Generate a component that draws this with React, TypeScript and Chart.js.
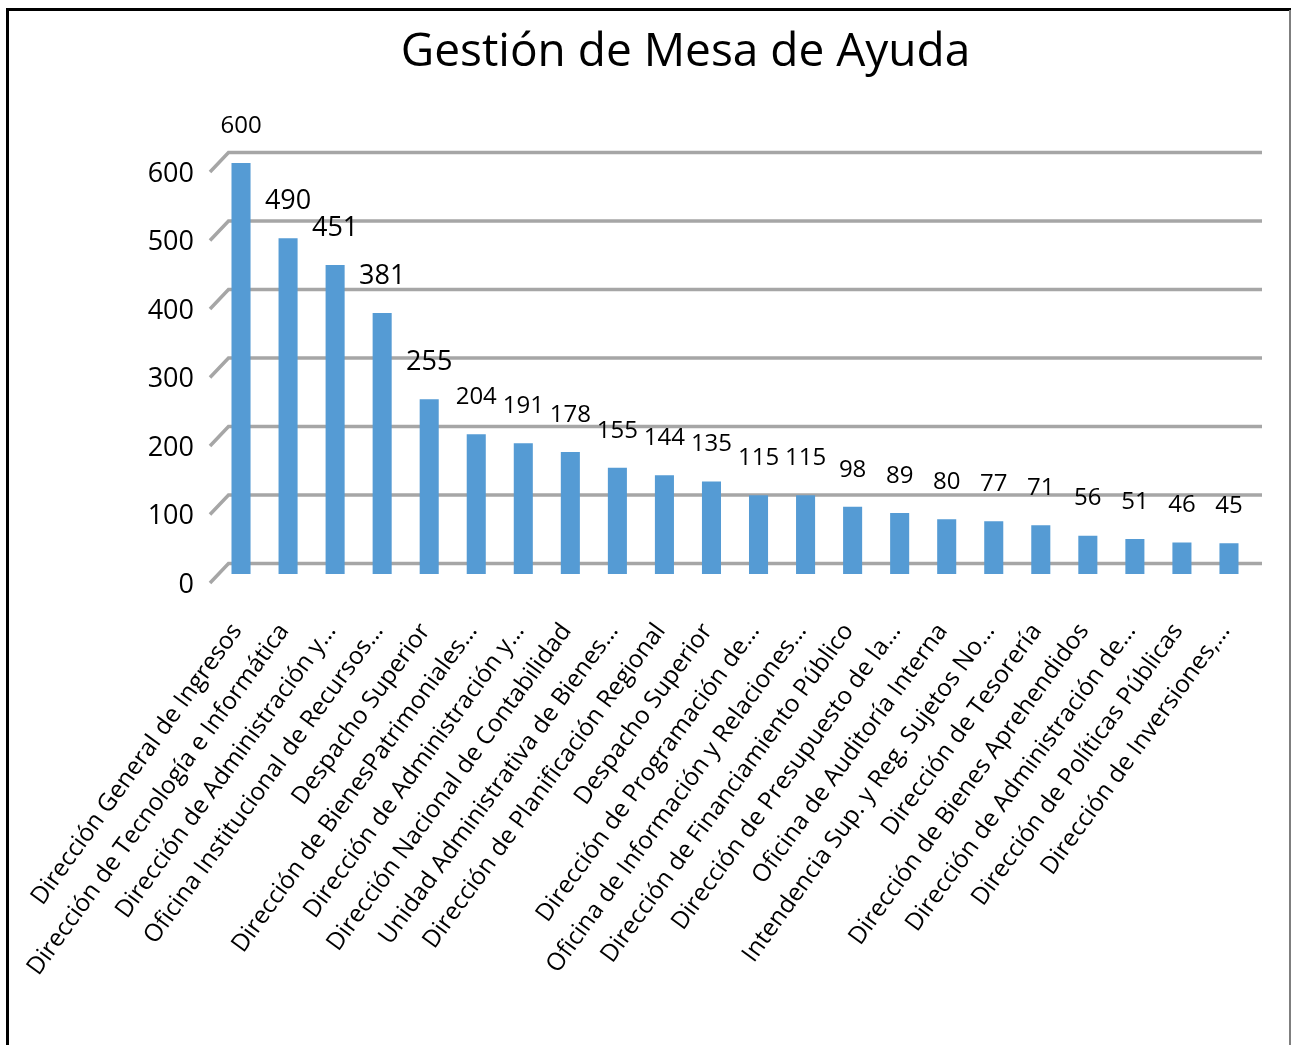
import { useEffect, useRef } from 'react';
import { Chart, registerables } from 'chart.js';

Chart.register(...registerables);

const chartTitle = 'Gestión de Mesa de Ayuda';

const categories = [
  'Dirección General de Ingresos',
  'Dirección de Tecnología e Informática',
  'Dirección de Administración y…',
  'Oficina Institucional de Recursos…',
  'Despacho Superior',
  'Dirección de BienesPatrimoniales…',
  'Dirección de Administración y…',
  'Dirección Nacional de Contabilidad',
  'Unidad Administrativa de Bienes…',
  'Dirección de Planificación Regional',
  'Despacho Superior',
  'Dirección de Programación de…',
  'Oficina de Información y Relaciones…',
  'Dirección de Financiamiento Público',
  'Dirección de Presupuesto de la…',
  'Oficina de Auditoría Interna',
  'Intendencia Sup. y Reg. Sujetos No…',
  'Dirección de Tesorería',
  'Dirección de Bienes Aprehendidos',
  'Dirección de Administración de…',
  'Dirección de Políticas Públicas',
  'Dirección de Inversiones,…',
];

const values = [600, 490, 451, 381, 255, 204, 191, 178, 155, 144, 135, 115, 115, 98, 89, 80, 77, 71, 56, 51, 46, 45];

const yMin = 0;
const yMax = 600;
const yStep = 100;

// style only: font size of each value label
const valueLabelSizes = [24, 27, 27, 27, 27, 24, 24, 24, 24, 24, 24, 24, 24, 24, 24, 24, 24, 24, 24, 24, 24, 24];

const FONT = '"Open Sans", "Noto Sans", sans-serif';

export default function App() {
  const ref = useRef<HTMLCanvasElement | null>(null);

  useEffect(() => {
    const canvas = ref.current;
    if (!canvas) return;

    const framePlugin = {
      id: 'frame',
      afterDraw(chart: any) {
        const ctx = chart.ctx;
        ctx.save();
        ctx.fillStyle = '#000';
        ctx.fillRect(6, 8, 1285, 3);
        ctx.fillRect(6, 8, 3, 1037);
        ctx.fillStyle = '#7f7f7f';
        ctx.fillRect(1289, 10, 2, 1035);
        ctx.restore();
      },
    };

    const grid3dPlugin = {
      id: 'grid3d',
      beforeDatasetsDraw(chart: any) {
        const { ctx, chartArea } = chart;
        const ys = chart.scales.y;
        ctx.save();
        ctx.strokeStyle = '#a6a6a6';
        ctx.lineWidth = 3.5;
        ctx.lineJoin = 'miter';
        ys.ticks.forEach((t: any) => {
          const yf = ys.getPixelForValue(t.value);
          const yb = yf - 10.5;
          ctx.beginPath();
          ctx.moveTo(chartArea.left - 7.5, yf + 9);
          ctx.lineTo(chartArea.left + 11, yb);
          ctx.lineTo(chartArea.right + 9.5, yb);
          ctx.stroke();
        });
        ctx.restore();
      },
    };

    const valueLabelPlugin = {
      id: 'valueLabels',
      afterDatasetsDraw(chart: any) {
        const ctx = chart.ctx;
        const meta = chart.getDatasetMeta(0);
        ctx.save();
        ctx.fillStyle = '#000';
        ctx.textAlign = 'center';
        ctx.textBaseline = 'middle';
        meta.data.forEach((bar: any, i: number) => {
          ctx.font = `${valueLabelSizes[i]}px ${FONT}`;
          ctx.fillText(String(values[i]), bar.x, bar.y - 37);
        });
        ctx.restore();
      },
    };

    const chart = new Chart(canvas, {
      type: 'bar',
      data: {
        labels: categories,
        datasets: [
          {
            data: values,
            backgroundColor: '#559bd4',
            borderWidth: 0,
            barPercentage: 0.405,
            categoryPercentage: 1,
          },
        ],
      },
      options: {
        responsive: false,
        animation: false,
        layout: { padding: { left: 118.5, right: 38.5, top: 0, bottom: 0 } },
        plugins: {
          legend: { display: false },
          tooltip: { enabled: false },
          title: {
            display: true,
            text: chartTitle,
            color: '#000',
            font: { family: FONT, size: 46, weight: 'normal', lineHeight: 1.2 },
            padding: { top: 25.4, bottom: 82.4 },
          },
        },
        scales: {
          x: {
            grid: { display: false, drawTicks: false },
            border: { display: false },
            ticks: {
              autoSkip: false,
              maxRotation: 54,
              minRotation: 54,
              color: '#000',
              font: { family: FONT, size: 24.4 },
              padding: 44,
              labelOffset: -4,
            },
            afterFit(s: any) {
              s.height = 471;
              s.paddingLeft = 0;
              s.paddingRight = 0;
            },
          },
          y: {
            min: yMin,
            max: yMax,
            grid: { display: false, drawTicks: false },
            border: { display: false },
            ticks: {
              stepSize: yStep,
              color: '#000',
              font: { family: FONT, size: 27 },
              padding: 23.5,
              labelOffset: 11,
            },
            afterFit(s: any) {
              s.width = 99;
            },
          },
        },
      },
      plugins: [grid3dPlugin, valueLabelPlugin, framePlugin],
    });

    return () => chart.destroy();
  }, []);

  return (
    <div style={{ position: 'absolute', left: 0, top: 0, width: 1291, height: 1045, background: '#fff' }}>
      <canvas ref={ref} width={1291} height={1045} style={{ display: 'block' }} />
    </div>
  );
}
